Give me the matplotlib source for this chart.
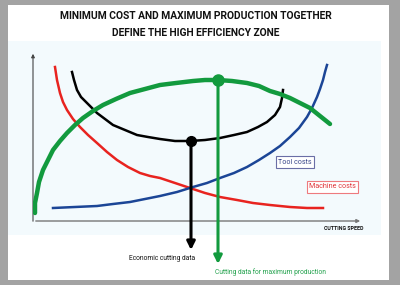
import matplotlib
matplotlib.use("Agg")
import matplotlib.pyplot as plt
from matplotlib.patches import Rectangle
from matplotlib import font_manager

installed = {f.name for f in font_manager.fontManager.ttflist}
narrow = 'Liberation Sans Narrow' in installed
plt.rcParams['font.family'] = ['Liberation Sans Narrow' if narrow else 'Roboto', 'DejaVu Sans']
k = 1.0 if narrow else 0.85  # shrink when no condensed face available
kt = 1.0 if narrow else 0.74

# curves (x: cutting speed, y: cost / production, arbitrary units)
machine_x = [22, 24, 27, 30, 34, 40, 47, 55, 64, 74, 84, 95, 107, 117, 127, 142, 157,
             172, 187, 204, 220, 237, 257, 274, 290]
machine_y = [154, 141, 128, 119, 111, 102, 94, 86, 78, 69, 61, 54, 48, 45, 43, 38, 33,
             28, 24, 21, 18, 16, 14, 13, 13]

total_x = [39, 41, 44, 48, 54, 59, 64, 72, 80, 92, 104, 115, 127, 142, 157, 172, 187,
           201, 214, 225, 234, 242, 247, 249, 250]
total_y = [149, 141, 131, 124, 118, 113, 108, 102, 96, 91, 86, 84, 82, 80, 80, 81, 83,
           86, 89, 94, 99, 106, 114, 123, 131]

prod_x = [2, 2, 4, 6, 10, 15, 20, 27, 34, 42, 50, 60, 70, 83, 97, 112, 127, 143, 160,
          172, 185, 199, 214, 226, 237, 247, 257, 267, 277, 287, 297]
prod_y = [8, 18, 28, 39, 51, 61, 71, 80, 88, 96, 103, 110, 116, 122, 128, 132, 136, 138,
          140, 141, 141, 140, 138, 135, 130, 127, 123, 118, 113, 105, 97]

tool_x = [20, 42, 64, 80, 97, 112, 127, 144, 160, 174, 187, 201, 214, 226, 237, 247, 257,
          266, 274, 279, 284, 287, 290, 292, 294]
tool_y = [13, 14, 15, 17, 19, 22, 25, 29, 34, 38, 43, 48, 54, 61, 68, 75, 84,
          93, 104, 113, 124, 132, 141, 149, 156]

econ_x, econ_y = 158, 80
maxprod_x, maxprod_y = 185, 141

green = '#129a3e'
red = '#e8231f'
blue = '#1b4596'

fig = plt.figure(figsize=(4.0, 2.85), dpi=100)
fig.patch.set_facecolor('#a3a3a3')
fig.add_artist(Rectangle((8 / 400, 5 / 285), 381 / 400, 275 / 285, zorder=-2,
                         transform=fig.transFigure, facecolor='white', edgecolor='none'))
fig.add_artist(Rectangle((8 / 400, 50 / 285), 373 / 400, 194 / 285, zorder=-1,
                         transform=fig.transFigure, facecolor='#f3fafd', edgecolor='none'))

fig.text(0.49, 1 - 16 / 285, 'MINIMUM COST AND MAXIMUM PRODUCTION TOGETHER',
         ha='center', va='center', fontsize=10 * kt, fontweight='bold', color='#111111')
fig.text(0.49, 1 - 33 / 285, 'DEFINE THE HIGH EFFICIENCY ZONE',
         ha='center', va='center', fontsize=10 * kt, fontweight='bold', color='#111111')

ax = fig.add_axes([33 / 400, 64 / 285, 330 / 400, 170 / 285])
ax.set_xlim(0, 330)
ax.set_ylim(0, 170)
ax.axis('off')

# axes with arrows
ax.annotate('', xy=(0, 170), xytext=(0, -3), annotation_clip=False,
            arrowprops=dict(arrowstyle='-|>', color='#444444', lw=0.8, mutation_scale=5))
ax.annotate('', xy=(330, 0), xytext=(0, 0), annotation_clip=False,
            arrowprops=dict(arrowstyle='-|>', color='#777777', lw=1.0, mutation_scale=5))

ax.plot(prod_x, prod_y, color=green, lw=3.2, solid_capstyle='round',
        solid_joinstyle='round', zorder=3)
ax.plot(machine_x, machine_y, color=red, lw=1.8, solid_joinstyle='round', zorder=2)
ax.plot(tool_x, tool_y, color=blue, lw=1.8, solid_joinstyle='round', zorder=2)
ax.plot(total_x, total_y, color='black', lw=1.8, solid_joinstyle='round', zorder=2)

# vertical markers with arrows
ax.annotate('', xy=(econ_x, -29), xytext=(econ_x, econ_y), annotation_clip=False,
            arrowprops=dict(arrowstyle='-|>', color='black', lw=2.2, mutation_scale=12,
                            shrinkA=0, shrinkB=0), zorder=4)
ax.annotate('', xy=(maxprod_x, -43), xytext=(maxprod_x, maxprod_y), annotation_clip=False,
            arrowprops=dict(arrowstyle='-|>', color=green, lw=2.2, mutation_scale=12,
                            shrinkA=0, shrinkB=0), zorder=4)
ax.plot([econ_x], [econ_y], 'o', color='black', ms=7, zorder=5)
ax.plot([maxprod_x], [maxprod_y], 'o', color=green, ms=8, zorder=5)

ax.text(262, 59, 'Tool costs', ha='center', va='center', fontsize=6 * k, color='#39478a',
        bbox=dict(boxstyle='square,pad=0.3', fc='white', ec='#6a6ea6', lw=0.8))
ax.text(299, 34, 'Machine costs', ha='center', va='center', fontsize=6 * k, color='#e0343a',
        bbox=dict(boxstyle='square,pad=0.3', fc='white', ec='#ee7a7e', lw=0.8))
ax.text(330, -7, 'CUTTING SPEED', ha='right', va='center', fontsize=4.5 * k,
        fontweight='bold', color='#111111')
ax.text(162, -37, 'Economic cutting data', ha='right', va='center', fontsize=6.5 * kt,
        color='#111111')
ax.text(182, -51, 'Cutting data for maximum production', ha='left', va='center',
        fontsize=6.5 * kt, color='#1fa04a')

fig.savefig('out.png', dpi=100, facecolor=fig.get_facecolor())
